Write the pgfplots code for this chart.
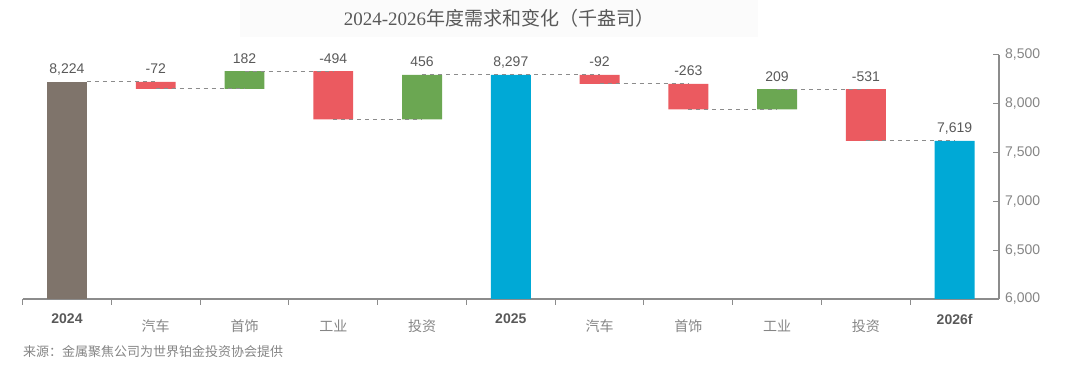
\documentclass[border=0pt]{standalone}
\usepackage{fontspec}
\setmainfont{Liberation Sans}
\newfontfamily\cjk{Noto Sans CJK SC}
\newfontfamily\serifnum{Liberation Serif}
\usepackage{pgfplots}
\pgfplotsset{compat=1.18}
\usepackage{pgfplotstable}
\definecolor{cgray}{HTML}{7F746B}
\definecolor{cred}{HTML}{EB5A60}
\definecolor{cgreen}{HTML}{6BA752}
\definecolor{cblue}{HTML}{00A9D6}
\definecolor{axisgray}{HTML}{8C8C8C}
\definecolor{txtdark}{HTML}{595959}
\definecolor{txtlight}{HTML}{858585}
\newcommand{\cl}[1]{\raisebox{-7bp}[10bp][0pt]{\color{txtlight}\cjk #1}}

% columns: x, invisible base, red, green, gray total, blue total
\pgfplotstableread[row sep=\\]{
x base red green gray blue\\
0 0 0 0 8224 0\\
1 8152 72 0 0 0\\
2 8152 0 182 0 0\\
3 7840 494 0 0 0\\
4 7840 0 456 0 0\\
5 0 0 0 0 8297\\
6 8205 92 0 0 0\\
7 7942 263 0 0 0\\
8 7942 0 209 0 0\\
9 7620 531 0 0 0\\
10 0 0 0 0 7619\\
}\wf

\begin{document}
\begin{tikzpicture}
\useasboundingbox (0,0) rectangle (1080bp,383bp);
\node[fill=black!1.5, minimum width=518bp, minimum height=38bp, inner sep=0pt, text=txtdark]
  at (499bp,364.5bp) {\fontsize{19bp}{22bp}\selectfont{\serifnum 2024-2026}{\cjk 年度需求和变化（千盎司）}};
\begin{axis}[
  at={(22.6bp,84bp)}, anchor=south west, scale only axis,
  width=976.4bp, height=244bp,
  xmin=-0.5, xmax=10.5, ymin=6000, ymax=8500,
  ybar stacked, bar width=0.45,
  axis x line*=bottom, axis y line*=right,
  axis line style={draw=axisgray, line width=1.4bp},
  tick align=inside,
  xtick={0,...,10},
  xticklabels={{\bfseries 2024},{\cl{汽车}},{\cl{首饰}},{\cl{工业}},{\cl{投资}},{\bfseries 2025},{\cl{汽车}},{\cl{首饰}},{\cl{工业}},{\cl{投资}},{\bfseries 2026f}},
  major x tick style={draw=none},
  minor xtick={-0.5,0.5,1.5,2.5,3.5,4.5,5.5,6.5,7.5,8.5,9.5},
  minor x tick style={draw=axisgray, line width=1bp, yshift=-6bp},
  minor tick length=6bp,
  xticklabel style={anchor=north, inner sep=0pt, yshift=-15bp, font=\fontsize{14bp}{16bp}\selectfont, text=txtdark},
  ytick={6000,6500,7000,7500,8000,8500},
  major y tick style={draw=axisgray, line width=1bp},
  major tick length=6bp,
  yticklabel style={anchor=west, inner sep=0pt, xshift=6bp, font=\fontsize{14bp}{16bp}\selectfont, text=txtlight},
  /pgf/number format/.cd, 1000 sep={,}, assume math mode=true, /pgfplots/.cd,
]
\addplot[draw=none, fill=none] table[x=x, y=base] {\wf};
\addplot[draw=none, fill=cred] table[x=x, y=red] {\wf};
\addplot[draw=none, fill=cgreen] table[x=x, y=green] {\wf};
\addplot[draw=none, fill=cgray] table[x=x, y=gray] {\wf};
\addplot[draw=none, fill=cblue] table[x=x, y=blue] {\wf};
\end{axis}
\begin{axis}[
  at={(22.6bp,84bp)}, anchor=south west, scale only axis,
  width=976.4bp, height=244bp,
  xmin=-0.5, xmax=10.5, ymin=6000, ymax=8500,
  hide axis, clip=false,
]
\addplot[draw=axisgray, line width=1bp, dash pattern=on 4bp off 4bp, unbounded coords=jump] table[row sep=\\] {
x y\\
0.225 8224\\ 1 8224\\ nan nan\\
1 8152\\ 2 8152\\ nan nan\\
2 8334\\ 3 8334\\ nan nan\\
3 7840\\ 4 7840\\ nan nan\\
4 8297\\ 5 8297\\ 6 8297\\ nan nan\\
6 8205\\ 7 8205\\ nan nan\\
7 7942\\ 8 7942\\ nan nan\\
8 8151\\ 9 8151\\ nan nan\\
9 7620\\ 10 7620\\
};
\addplot[only marks, mark=none, nodes near coords, point meta=explicit symbolic,
  nodes near coords style={anchor=base, inner sep=0pt, yshift=8bp, text=txtdark, font=\fontsize{14bp}{16bp}\selectfont}]
  table[meta=lab, row sep=\\] {
x y lab\\
0 8224 8,224\\
1 8224 -72\\
2 8334 182\\
3 8334 -494\\
4 8297 456\\
5 8297 8,297\\
6 8297 -92\\
7 8205 -263\\
8 8151 209\\
9 8151 -531\\
10 7619 7,619\\
};
\end{axis}
\node[anchor=west, inner sep=0pt, text=txtlight] at (23bp,31bp) {\fontsize{13bp}{15bp}\selectfont\cjk 来源：金属聚焦公司为世界铂金投资协会提供};
\end{tikzpicture}
\end{document}
